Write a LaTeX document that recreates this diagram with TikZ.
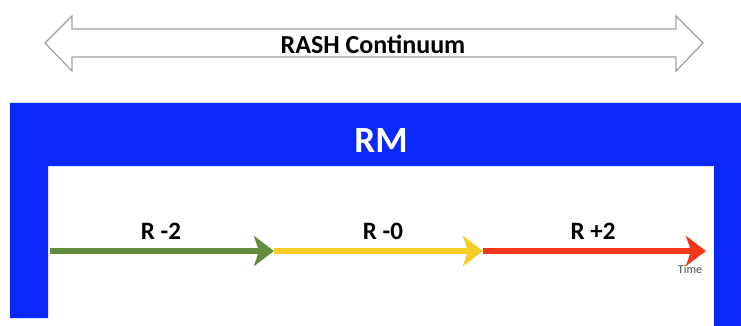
\documentclass[tikz,border=0pt]{standalone}
\usepackage{fontspec}
\setmainfont{Carlito}
\usetikzlibrary{arrows.meta}
\definecolor{rmblue}{RGB}{10,40,250}
\definecolor{agreen}{RGB}{98,140,62}
\definecolor{ayellow}{RGB}{247,205,40}
\definecolor{ared}{RGB}{240,55,25}
\definecolor{outl}{RGB}{160,160,160}
\tikzset{
  seg/.style={line width=6pt, -{Stealth[length=20pt,width=30pt,inset=5pt]}},
  lab/.style={font=\bfseries\fontsize{25}{27}\selectfont, text=black, inner sep=0pt}
}
\begin{document}
\begin{tikzpicture}[x=1pt,y=-1pt]
\useasboundingbox (0,0) rectangle (741,326);
\fill[white] (0,0) rectangle (741,326);
% blue frame
\fill[rmblue] (10,103) -- (741,103) -- (741,326) -- (714,326) -- (714,166) -- (48,166) -- (48,318) -- (10,318) -- cycle;
\node[font=\bfseries\fontsize{37}{39}\selectfont, text=white, inner sep=0pt] (rm) at (381,141) {RM};
% double arrow
\draw[outl, line width=1.2pt, fill=white] (45,43) -- (72,16) -- (72,29) -- (676,29) -- (676,16) -- (703,43) -- (676,71) -- (676,57) -- (72,57) -- (72,71) -- cycle;
\node[font=\bfseries\fontsize{26}{28}\selectfont, inner sep=0pt] (rash) at (373,44) {RASH Continuum};
% timeline
\coordinate (p0) at (50,251);
\coordinate (p1) at (274,251);
\coordinate (p2) at (483,251);
\coordinate (p3) at (706,251);
\draw[seg, agreen] (p0) -- (p1);
\draw[seg, ayellow] (p1) -- (p2);
\draw[seg, ared] (p2) -- (p3);
\node[lab] (l1) at (161,231) {R -2};
\node[lab] (l2) at (383,231) {R -0};
\node[lab] (l3) at (593,231) {R +2};
\node[font=\fontsize{12}{13}\selectfont, text=black!70, inner sep=0pt] (time) at (690,269) {Time};
\end{tikzpicture}
\end{document}
